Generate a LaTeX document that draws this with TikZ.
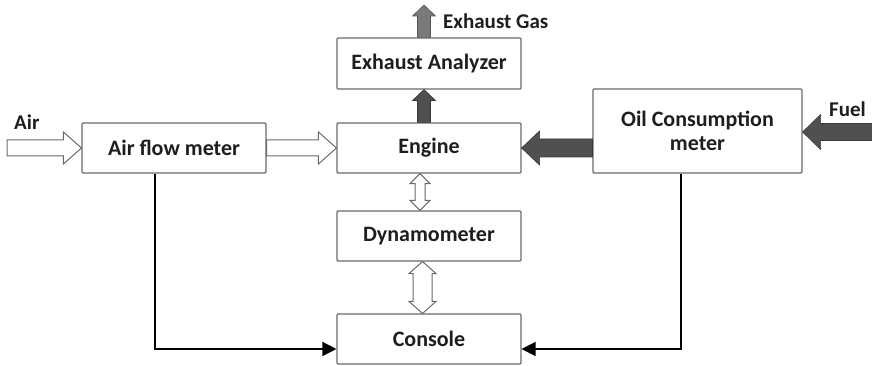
\documentclass[tikz,border=0pt]{standalone}
\usepackage{fontspec}
\setmainfont{Carlito}
\usetikzlibrary{calc,arrows.meta}
\definecolor{boxline}{HTML}{6A6A6A}
\definecolor{darkfill}{HTML}{505050}
\definecolor{midfill}{HTML}{7A7A7A}
\definecolor{txt}{HTML}{1E1E1E}
\begin{document}
\begin{tikzpicture}[x=1pt,y=-1pt,
  blk/.style={draw=boxline,line width=1.1pt,rounded corners=1pt,fill=white,inner sep=0pt,
    minimum width=184pt,minimum height=50pt,align=center,text=txt,font=\bfseries\fontsize{22}{23.5}\selectfont},
  lbl/.style={inner sep=0pt,text=txt,font=\bfseries\fontsize{21}{23}\selectfont},
  hollow/.style={draw=boxline,line width=1pt,fill=white,line join=miter},
  solid/.style={draw=darkfill!70!black,line width=0.6pt,fill=darkfill,line join=miter},
  light/.style={draw=midfill!70!black,line width=0.6pt,fill=midfill,line join=miter},
  wire/.style={draw=black,line width=1.4pt,-{Triangle[length=14pt,width=14pt]}}]
\useasboundingbox (0,0) rectangle (872,366);

% blocks
\node[blk] (afm) at (174,148) {Air flow meter};
\node[blk] (eng) at (429,148) {Engine};
\node[blk,minimum height=51pt] (exa) at (429,63.5) {Exhaust Analyzer};
\node[blk,minimum width=209pt,minimum height=84pt] (oil) at (697.5,131) {Oil Consumption\\meter};
\node[blk] (dyn) at (429,236) {Dynamometer};
\node[blk] (con) at (429,339) {Console};

% labels
\node[lbl,anchor=west] (airl) at (14,122) {Air};
\node[lbl,anchor=west] (gasl) at (443,21) {Exhaust Gas};
\node[lbl,anchor=west] (fuell) at (829,109) {Fuel};

% free ends
\coordinate (airin) at (7,148);
\coordinate (gasout) at (424,5);
\coordinate (fuelin) at (873,132);

% Air -> Air flow meter (hollow)
\path[hollow] ($(airin)+(0,-8)$) -- ($(afm.west)+(-18,-8)$) -- ($(afm.west)+(-18,-16)$)
  -- (afm.west) -- ($(afm.west)+(-18,16)$) -- ($(afm.west)+(-18,8)$) -- ($(airin)+(0,8)$) -- cycle;
% Air flow meter -> Engine (hollow)
\path[hollow] ($(afm.east)+(0,-8)$) -- ($(eng.west)+(-18,-8)$) -- ($(eng.west)+(-18,-16)$)
  -- (eng.west) -- ($(eng.west)+(-18,16)$) -- ($(eng.west)+(-18,8)$) -- ($(afm.east)+(0,8)$) -- cycle;

% Oil -> Engine (dark)
\path[solid] ($(oil.west |- eng.east)+(0,-9)$) -- ($(eng.east)+(18,-9)$) -- ($(eng.east)+(18,-17)$)
  -- (eng.east) -- ($(eng.east)+(18,17)$) -- ($(eng.east)+(18,9)$) -- ($(oil.west |- eng.east)+(0,9)$) -- cycle;
% Fuel -> Oil (dark)
\path[solid] ($(fuelin)+(0,-8.5)$) -- ($(oil.east |- fuelin)+(18,-8.5)$) -- ($(oil.east |- fuelin)+(18,-17.5)$)
  -- (oil.east |- fuelin) -- ($(oil.east |- fuelin)+(18,17.5)$) -- ($(oil.east |- fuelin)+(18,8.5)$) -- ($(fuelin)+(0,8.5)$) -- cycle;

% Engine -> Exhaust Analyzer (dark, up)
\path[solid] ($(eng.north -| gasout)+(-6.5,0)$) -- ($(exa.south -| gasout)+(-6.5,11)$) -- ($(exa.south -| gasout)+(-11.5,11)$)
  -- (exa.south -| gasout) -- ($(exa.south -| gasout)+(11.5,11)$) -- ($(exa.south -| gasout)+(6.5,11)$) -- ($(eng.north -| gasout)+(6.5,0)$) -- cycle;
% Exhaust Analyzer -> Exhaust Gas (lighter, up)
\path[light] ($(exa.north -| gasout)+(-6.5,0)$) -- ($(gasout)+(-6.5,11)$) -- ($(gasout)+(-11.5,11)$)
  -- (gasout) -- ($(gasout)+(11.5,11)$) -- ($(gasout)+(6.5,11)$) -- ($(exa.north -| gasout)+(6.5,0)$) -- cycle;

% Engine <-> Dynamometer (hollow double)
\coordinate (ua) at ($(eng.south)+(-9,0)$);
\coordinate (ub) at ($(dyn.north)+(-9,0)$);
\path[hollow] (ua) -- ($(ua)+(10,10)$) -- ($(ua)+(5,10)$) -- ($(ub)+(5,-10)$) -- ($(ub)+(10,-10)$)
  -- (ub) -- ($(ub)+(-10,-10)$) -- ($(ub)+(-5,-10)$) -- ($(ua)+(-5,10)$) -- ($(ua)+(-10,10)$) -- cycle;
% Dynamometer <-> Console (hollow double)
\coordinate (la) at ($(dyn.south)+(-6.5,0)$);
\coordinate (lb) at ($(con.north)+(-6.5,0)$);
\path[hollow] (la) -- ($(la)+(13.5,12)$) -- ($(la)+(9.5,12)$) -- ($(lb)+(9.5,-12)$) -- ($(lb)+(13.5,-12)$)
  -- (lb) -- ($(lb)+(-13.5,-12)$) -- ($(lb)+(-9.5,-12)$) -- ($(la)+(-9.5,12)$) -- ($(la)+(-13.5,12)$) -- cycle;

% signal wires to console
\draw[wire] (afm.south -| 155,0) |- ($(con.west)+(0,10)$);
\draw[wire] (oil.south -| 681,0) |- ($(con.east)+(0,10)$);
\end{tikzpicture}
\end{document}
